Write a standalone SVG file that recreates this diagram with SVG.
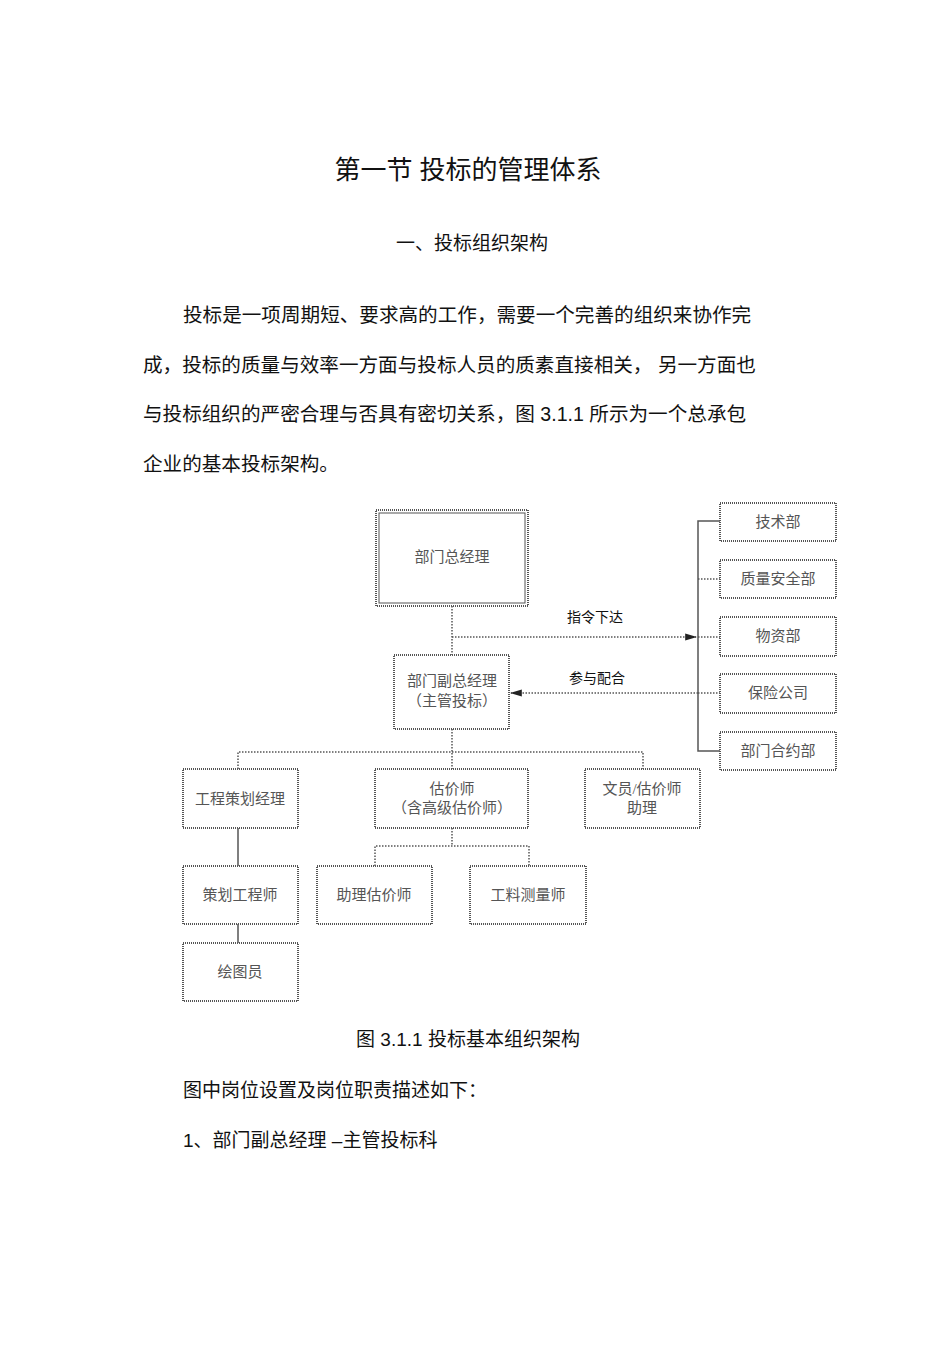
<svg xmlns="http://www.w3.org/2000/svg" width="950" height="1345" viewBox="0 0 950 1345">
<defs>
<style>
.t{font-family:"Liberation Sans","Noto Sans CJK SC",sans-serif;fill:#111}
.n rect{fill:#fff;stroke:#555;stroke-width:2;stroke-dasharray:1 1}
.n text{font-family:"Liberation Serif","Noto Sans CJK SC",serif;font-size:15px;fill:#555;text-anchor:middle}
.c path{fill:none;stroke:#555;stroke-width:1.5}
.d{stroke-dasharray:1.5 1.5}
</style>
<marker id="ah" viewBox="0 0 10 10" refX="9" refY="5" markerWidth="8" markerHeight="8" orient="auto"><path d="M0,2L10,5L0,8z" fill="#222"/></marker>
</defs>
<rect width="950" height="1345" fill="#fff"/>
<text class="t" x="468" y="179" font-size="26" text-anchor="middle">第一节  投标的管理体系</text>
<text class="t" x="472" y="250" font-size="19" text-anchor="middle">一、投标组织架构</text>
<text class="t" x="183" y="322" font-size="19.6">投标是一项周期短、要求高的工作，需要一个完善的组织来协作完</text>
<text class="t" x="143" y="372" font-size="19.6">成，投标的质量与效率一方面与投标人员的质素直接相关，       另一方面也</text>
<text class="t" x="143" y="421" font-size="19.6">与投标组织的严密合理与否具有密切关系，图      3.1.1 所示为一个总承包</text>
<text class="t" x="143" y="471" font-size="19.6">企业的基本投标架构。</text>
<g class="c">
<path class="d" d="M452,606V655"/>
<path class="d" d="M452,637H696" marker-end="url(#ah)"/>
<path class="d" d="M698,693H511" marker-end="url(#ah)"/>
<path d="M720,521H698V751H720"/>
<path class="d" d="M698,579H720M698,637H720M698,693H720"/>
<path class="d" d="M452,729V769M238,769V752H643V769"/>
<path d="M238,828V866M238,924V943"/>
<path class="d" d="M452,828V846M375,866V846H529V866"/>
</g>
<text class="t" x="595" y="622" font-size="14" text-anchor="middle" fill="#333">指令下达</text>
<text class="t" x="597" y="683" font-size="14" text-anchor="middle" fill="#333">参与配合</text>
<g id="n1" class="n"><rect x="376" y="510" width="152" height="96" style="stroke-width:2"/><rect x="379" y="513" width="146" height="90" style="stroke-width:1;stroke-dasharray:none"/><text x="452" y="562">部门总经理</text></g>
<g id="n2" class="n"><rect x="394" y="655" width="115" height="74"/><text x="452" y="686">部门副总经理</text><text x="452" y="706">（主管投标）</text></g>
<g id="r1" class="n"><rect x="720" y="503" width="116" height="38"/><text x="778" y="527">技术部</text></g>
<g id="r2" class="n"><rect x="720" y="560" width="116" height="38"/><text x="778" y="584">质量安全部</text></g>
<g id="r3" class="n"><rect x="720" y="617" width="116" height="39"/><text x="778" y="641">物资部</text></g>
<g id="r4" class="n"><rect x="720" y="674" width="116" height="39"/><text x="778" y="698">保险公司</text></g>
<g id="r5" class="n"><rect x="720" y="732" width="116" height="38"/><text x="778" y="756">部门合约部</text></g>
<g id="b1" class="n"><rect x="183" y="769" width="115" height="59"/><text x="240" y="804">工程策划经理</text></g>
<g id="b2" class="n"><rect x="375" y="769" width="153" height="59"/><text x="452" y="794">估价师</text><text x="452" y="813">（含高级估价师）</text></g>
<g id="b3" class="n"><rect x="585" y="769" width="115" height="59"/><text x="642" y="794">文员/估价师</text><text x="642" y="813">助理</text></g>
<g id="c1" class="n"><rect x="183" y="866" width="115" height="58"/><text x="240" y="900">策划工程师</text></g>
<g id="c2" class="n"><rect x="317" y="866" width="115" height="58"/><text x="374" y="900">助理估价师</text></g>
<g id="c3" class="n"><rect x="470" y="866" width="116" height="58"/><text x="528" y="900">工料测量师</text></g>
<g id="c4" class="n"><rect x="183" y="943" width="115" height="58"/><text x="240" y="977">绘图员</text></g>
<text class="t" x="468" y="1046" font-size="19" text-anchor="middle">图 3.1.1 投标基本组织架构</text>
<text class="t" x="183" y="1097" font-size="19">图中岗位设置及岗位职责描述如下：</text>
<text class="t" x="183" y="1147" font-size="19">1、部门副总经理  –主管投标科</text>
</svg>
